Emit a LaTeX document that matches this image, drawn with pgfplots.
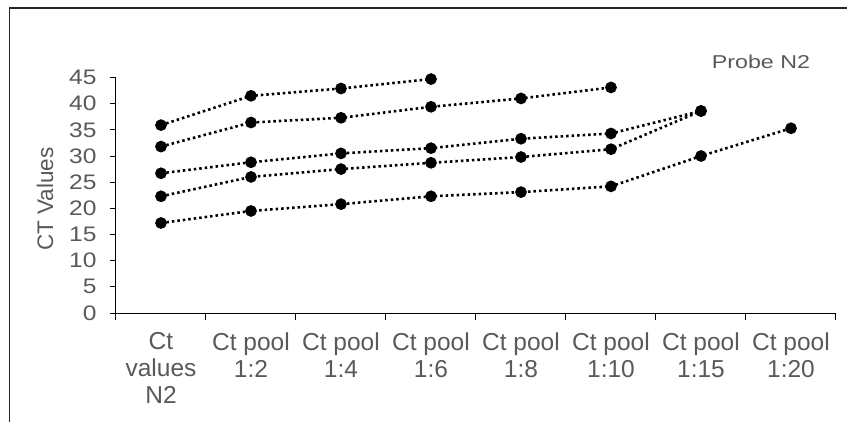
\documentclass[border=0pt]{standalone}
\usepackage{pgfplots}
\pgfplotsset{compat=1.18}
\usetikzlibrary{calc}
\usepackage{fontspec}
\setmainfont{Liberation Sans}
\newfontfamily\wideA{Liberation Sans}[FakeStretch=1.17]
\newfontfamily\wideB{Liberation Sans}[FakeStretch=1.25]
\definecolor{lblgray}{HTML}{595959}
\pgfplotsset{ser/.style={black, line width=2.6pt, dash pattern=on 2.5pt off 3pt, mark=*, mark size=4.5pt, mark options={solid, fill=black}}}
\begin{document}
\begin{tikzpicture}[x=1pt,y=1pt]
\begin{axis}[
  name=ax,
  scale only axis, width=720pt, height=235.5pt,
  xmin=-0.5, xmax=7.5, ymin=0, ymax=45,
  axis x line=bottom, axis y line=left,
  axis line style={-, line width=1pt, black},
  tick align=outside,
  xtick={0,...,7},
  xticklabels={{Ct\\values\\N2},{Ct pool\\1:2},{Ct pool\\1:4},{Ct pool\\1:6},{Ct pool\\1:8},{Ct pool\\1:10},{Ct pool\\1:15},{Ct pool\\1:20}},
  major x tick style={draw=none},
  minor xtick={-0.5,0.5,...,7.5},
  minor tick length=7pt,
  major tick length=6pt,
  every tick/.style={black, line width=1pt},
  ytick={0,5,...,45},
  /pgf/number format/assume math mode=true,
  yticklabel style={font=\wideA\fontsize{21}{21}\selectfont, text=lblgray, xshift=-10pt},
  xticklabel style={font=\fontsize{24.5}{27}\selectfont, text=lblgray, align=center, yshift=-10pt},
  ylabel={CT Values},
  ylabel style={font=\fontsize{22.5}{22.5}\selectfont, text=lblgray, at={(axis description cs:-0.0986,0.484)}, anchor=center, rotate=0},
  clip=false,
]
\coordinate (ORIG) at (axis cs:-0.5,0);
\addplot[ser] coordinates {(0,35.9) (1,41.5) (2,42.9) (3,44.7)};
\addplot[ser] coordinates {(0,31.8) (1,36.4) (2,37.3) (3,39.4) (4,41.0) (5,43.1)};
\addplot[ser] coordinates {(0,26.7) (1,28.8) (2,30.5) (3,31.5) (4,33.3) (5,34.3) (6,38.6)};
\addplot[ser] coordinates {(0,22.3) (1,26.0) (2,27.5) (3,28.7) (4,29.8) (5,31.3) (6,38.6)};
\addplot[ser] coordinates {(0,17.2) (1,19.5) (2,20.8) (3,22.3) (4,23.1) (5,24.2) (6,30.0) (7,35.3)};
\end{axis}
\coordinate (O) at ($(ORIG)+(-116,-108)$);
\pgfresetboundingbox
\useasboundingbox (O) rectangle ($(O)+(847,421)$);
\draw[line width=1.3pt, black!85] ($(O)+(9.5,-2)$) -- ($(O)+(9.5,413)$) -- ($(O)+(849,413)$);
\node[font=\wideB\fontsize{18.6}{18.6}\selectfont, text=lblgray] at ($(O)+(761,359)$) {Probe N2};
\end{tikzpicture}
\end{document}
